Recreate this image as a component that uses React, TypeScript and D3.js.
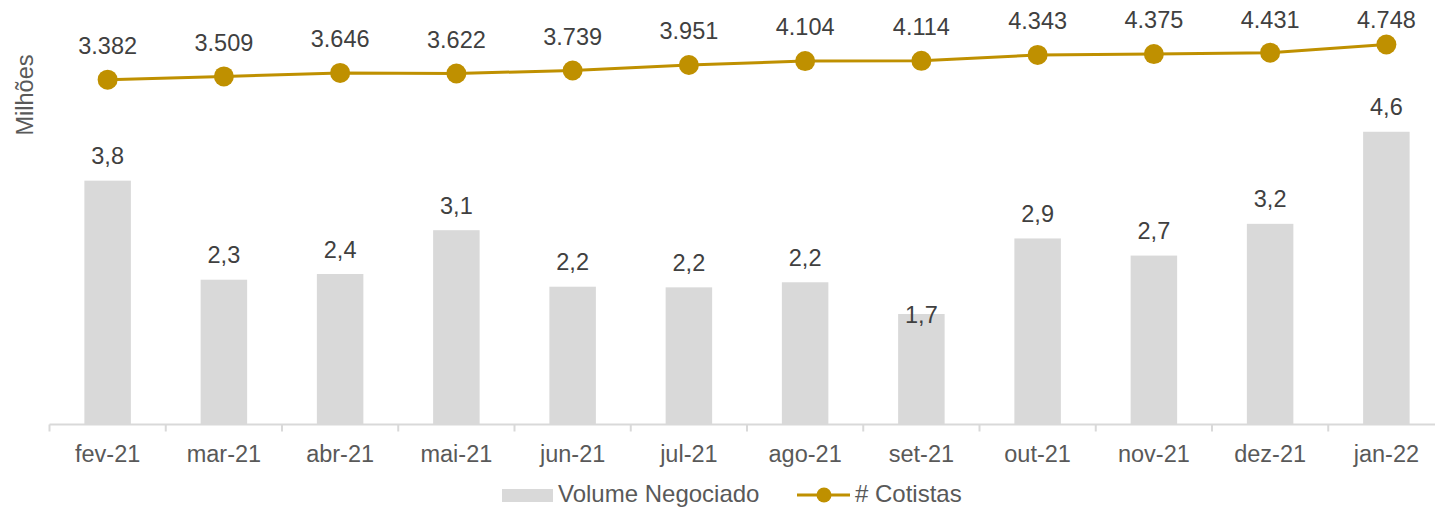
import React from "react";
import * as d3 from "d3";

// dados
const meses = ["fev-21", "mar-21", "abr-21", "mai-21", "jun-21", "jul-21", "ago-21", "set-21", "out-21", "nov-21", "dez-21", "jan-22"];
const volume = [3.84, 2.28, 2.37, 3.06, 2.17, 2.16, 2.24, 1.74, 2.93, 2.66, 3.16, 4.61];
const cotistas = [3382, 3509, 3646, 3622, 3739, 3951, 4104, 4114, 4343, 4375, 4431, 4748];
const labelDentro = ["set-21"];

const W = 1435;
const H = 507;
const GOLD = "#bf9000";
const GRAY = "#d9d9d9";
const FONT = "'Liberation Sans', Arial, sans-serif";

const App = () => {
  const base = 424.5;
  const x0 = 49.5;
  const x = d3.scaleBand().domain(meses).range([x0, x0 + 1395]).paddingInner(0.6).paddingOuter(0.3);
  const step = x.step();
  const cx = (m: string) => (x(m) as number) + x.bandwidth() / 2;
  const y = d3.scaleLinear().domain([0, 6]).range([base, 43.5]);
  const y2 = d3.scaleLinear().domain([-10000, 5000]).range([base, 38]);

  const line = d3.line<number>()
    .x((_, i) => cx(meses[i]))
    .y((d) => y2(d));

  const fmtVol = (v: number) => v.toFixed(1).replace(".", ",");
  const fmtCot = (v: number) => d3.format(",")(v).replace(/,/g, ".");

  return (
    <svg width={W} height={H} style={{ position: "absolute", left: 0, top: 0, display: "block", background: "#fff" }} fontFamily={FONT}>
      <text transform={`translate(33,95) rotate(-90)`} textAnchor="middle" fontSize={23.5} fill="#595959">Milhões</text>

      {/* barras */}
      {meses.map((m, i) => (
        <g key={m}>
          <rect x={x(m)} y={y(volume[i])} width={x.bandwidth()} height={base - y(volume[i])} fill={GRAY} />
          <text
            x={cx(m)}
            y={labelDentro.includes(m) ? y(volume[i]) + 9 : y(volume[i]) - 16.5}
            textAnchor="middle" fontSize={23.5} fill="#404040">
            {fmtVol(volume[i])}
          </text>
        </g>
      ))}

      {/* eixo x */}
      <line x1={x0} x2={W} y1={base} y2={base} stroke={GRAY} strokeWidth={2} />
      {meses.map((m, i) => (
        <g key={"t" + m}>
          <line x1={x0 + step * i} x2={x0 + step * i} y1={base} y2={base + 7} stroke={GRAY} strokeWidth={2} />
          <text x={cx(m)} y={461.5} textAnchor="middle" fontSize={23.5} fill="#595959">{m}</text>
        </g>
      ))}

      {/* linha de cotistas */}
      <path d={line(cotistas) || ""} fill="none" stroke={GOLD} strokeWidth={3} />
      {cotistas.map((v, i) => (
        <g key={"c" + i}>
          <circle cx={cx(meses[i])} cy={y2(v)} r={10} fill={GOLD} />
          <text x={cx(meses[i])} y={Math.max(28.3, y2(v) - 25.7)} textAnchor="middle" fontSize={23.5} fill="#404040">
            {fmtCot(v)}
          </text>
        </g>
      ))}

      {/* legenda */}
      <rect x={502} y={489} width={51} height={13} fill={GRAY} />
      <text x={558} y={502} fontSize={24} fill="#595959">Volume Negociado</text>
      <line x1={797} x2={850} y1={495} y2={495} stroke={GOLD} strokeWidth={3} />
      <circle cx={824} cy={495} r={7.5} fill={GOLD} />
      <text x={855} y={502} fontSize={24} fill="#595959"># Cotistas</text>
    </svg>
  );
};

export default App;
